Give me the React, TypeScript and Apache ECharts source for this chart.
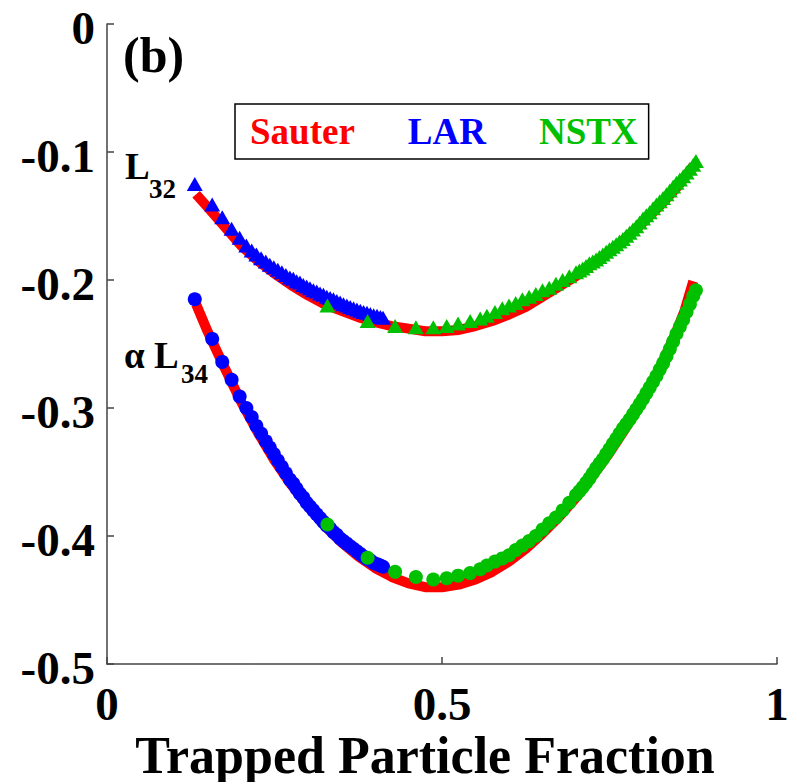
import React, { useEffect, useRef } from "react";
import * as echarts from "echarts";

// ---- data ----
const sauterX = [0.133, 0.15, 0.175, 0.2, 0.225, 0.25, 0.275, 0.3, 0.325, 0.35, 0.375, 0.4, 0.425, 0.45, 0.475, 0.5, 0.525, 0.55, 0.575, 0.6, 0.625, 0.65, 0.675, 0.7, 0.725, 0.75, 0.775, 0.8, 0.825, 0.85, 0.862, 0.875];
const sauterL32 = [-0.133, -0.143, -0.158, -0.173, -0.185, -0.195, -0.204, -0.212, -0.219, -0.224, -0.229, -0.233, -0.236, -0.238, -0.24, -0.24, -0.239, -0.236, -0.232, -0.227, -0.221, -0.213, -0.205, -0.197, -0.188, -0.178, -0.167, -0.155, -0.142, -0.128, -0.12, -0.111];
const sauterL34 = [-0.219, -0.24, -0.268, -0.295, -0.319, -0.341, -0.36, -0.377, -0.392, -0.405, -0.416, -0.425, -0.432, -0.437, -0.44, -0.44, -0.438, -0.434, -0.428, -0.42, -0.41, -0.398, -0.385, -0.37, -0.353, -0.335, -0.315, -0.294, -0.269, -0.24, -0.224, -0.201];

const larX = [0.131, 0.157, 0.172, 0.186, 0.198, 0.208, 0.216, 0.223, 0.23, 0.237, 0.243, 0.249, 0.255, 0.261, 0.267, 0.273, 0.278, 0.283, 0.288, 0.293, 0.298, 0.303, 0.308, 0.313, 0.318, 0.323, 0.328, 0.333, 0.338, 0.343, 0.348, 0.353, 0.358, 0.363, 0.368, 0.373, 0.378, 0.383, 0.388, 0.393, 0.398, 0.403, 0.408, 0.412];
const larL32 = [-0.125, -0.141, -0.151, -0.16, -0.167, -0.173, -0.177, -0.18, -0.183, -0.1855, -0.188, -0.19, -0.192, -0.194, -0.196, -0.198, -0.199, -0.201, -0.202, -0.204, -0.205, -0.2065, -0.208, -0.209, -0.2105, -0.2115, -0.213, -0.214, -0.215, -0.2165, -0.2175, -0.219, -0.22, -0.221, -0.222, -0.223, -0.224, -0.225, -0.2255, -0.2265, -0.2275, -0.228, -0.229, -0.2295];
const larL34 = [-0.215, -0.246, -0.264, -0.278, -0.291, -0.3, -0.307, -0.314, -0.32, -0.326, -0.331, -0.336, -0.341, -0.346, -0.351, -0.356, -0.359, -0.363, -0.367, -0.37, -0.374, -0.377, -0.38, -0.383, -0.386, -0.389, -0.392, -0.394, -0.397, -0.399, -0.402, -0.404, -0.406, -0.408, -0.41, -0.412, -0.414, -0.416, -0.418, -0.419, -0.421, -0.422, -0.423, -0.424];

const nstxX = [0.329, 0.389, 0.43, 0.461, 0.487, 0.507, 0.524, 0.542, 0.557, 0.567, 0.579, 0.59, 0.6, 0.61, 0.62, 0.63, 0.64, 0.65, 0.66, 0.67, 0.68, 0.69, 0.7, 0.705, 0.71, 0.715, 0.72, 0.725, 0.73, 0.735, 0.74, 0.745, 0.75, 0.755, 0.76, 0.765, 0.77, 0.775, 0.78, 0.785, 0.79, 0.795, 0.8, 0.805, 0.81, 0.815, 0.82, 0.825, 0.83, 0.835, 0.84, 0.845, 0.85, 0.855, 0.86, 0.865, 0.87, 0.875, 0.879];
const nstxL32 = [-0.22, -0.232, -0.236, -0.237, -0.237, -0.236, -0.234, -0.232, -0.23, -0.228, -0.225, -0.222, -0.22, -0.218, -0.215, -0.213, -0.211, -0.208, -0.206, -0.203, -0.2, -0.197, -0.194, -0.1925, -0.191, -0.189, -0.187, -0.1855, -0.184, -0.182, -0.18, -0.178, -0.176, -0.174, -0.172, -0.17, -0.168, -0.1655, -0.163, -0.1605, -0.158, -0.155, -0.152, -0.1495, -0.147, -0.144, -0.141, -0.1385, -0.136, -0.133, -0.13, -0.127, -0.124, -0.1215, -0.119, -0.116, -0.113, -0.11, -0.107];
const nstxL34 = [-0.391, -0.417, -0.428, -0.432, -0.434, -0.433, -0.431, -0.429, -0.426, -0.423, -0.42, -0.4175, -0.415, -0.411, -0.4075, -0.404, -0.4, -0.395, -0.39, -0.3855, -0.38, -0.374, -0.368, -0.365, -0.362, -0.3585, -0.355, -0.351, -0.347, -0.3435, -0.34, -0.336, -0.332, -0.328, -0.324, -0.32, -0.316, -0.3125, -0.309, -0.305, -0.301, -0.297, -0.293, -0.2885, -0.284, -0.2795, -0.275, -0.27, -0.265, -0.2595, -0.254, -0.248, -0.242, -0.2365, -0.231, -0.225, -0.219, -0.2125, -0.208];

const xTicks = [0, 0.5, 1];
const yTicks = [-0.5, -0.4, -0.3, -0.2, -0.1, 0];
const legendNames = ["Sauter", "LAR", "NSTX"];
const xTitle = "Trapped Particle Fraction";

const RED = "#ff0000";
const BLUE = "#0000ff";
const GREEN = "#00c000";
const FONT = "'Liberation Serif', 'Times New Roman', serif";

const pairs = (xs: number[], ys: number[]) => xs.map((x, i) => [x, ys[i]]);

export default function App() {
  const ref = useRef<HTMLDivElement>(null);
  useEffect(() => {
    if (!ref.current) return;
    const chart = echarts.init(ref.current, undefined, { renderer: "svg" });
    const labelStyle = { color: "#000", fontFamily: FONT, fontWeight: "bold" as const, fontSize: 47 };
    chart.setOption({
      animation: false,
      backgroundColor: "#ffffff",
      grid: { left: 107, top: 24, width: 670, height: 640, containLabel: false, outerBoundsMode: "none" },
      legend: {
        left: 235,
        top: 104,
        orient: "horizontal",
        icon: "none",
        itemWidth: 0,
        itemHeight: 0,
        itemGap: 48,
        padding: [9, 11, 9, 10],
        borderColor: "#000",
        borderWidth: 1.5,
        backgroundColor: "#fff",
        selectedMode: false,
        textStyle: { fontFamily: FONT, fontWeight: "bold", fontSize: 37 },
        data: [
          { name: legendNames[0], textStyle: { color: RED } },
          { name: legendNames[1], textStyle: { color: BLUE } },
          { name: legendNames[2], textStyle: { color: GREEN } },
        ],
      },
      xAxis: {
        type: "value",
        min: xTicks[0],
        max: xTicks[xTicks.length - 1],
        interval: 0.5,
        name: xTitle,
        nameLocation: "middle",
        nameGap: 65,
        nameMoveOverlap: false,
        nameTextStyle: { color: "#000", fontFamily: FONT, fontWeight: "bold", fontSize: 52, padding: [0, 34, 0, 0] },
        axisLine: { show: true, onZero: false, lineStyle: { color: "#444", width: 1.5 } },
        axisTick: { show: true, inside: true, length: 7, lineStyle: { color: "#444", width: 1.5 } },
        axisLabel: { ...labelStyle, margin: 16, formatter: (v: number) => String(v) },
        splitLine: { show: false },
      },
      yAxis: {
        type: "value",
        min: yTicks[0],
        max: yTicks[yTicks.length - 1],
        interval: 0.1,
        axisLine: { show: true, onZero: false, lineStyle: { color: "#444", width: 1.5 } },
        axisTick: { show: true, inside: true, length: 7, lineStyle: { color: "#444", width: 1.5 } },
        axisLabel: { ...labelStyle, margin: 12, verticalAlign: "top", lineHeight: 8, formatter: (v: number) => String(Math.round(v * 10) / 10) },
        splitLine: { show: false },
      },
      graphic: [
        { type: "text", left: 123, top: 30, style: { text: "(b)", font: `bold 50px ${FONT}`, fill: "#000" } },
        { type: "text", x: 125, y: 166, style: { text: "L", font: `bold 37px ${FONT}`, fill: "#000", verticalAlign: "middle" } },
        { type: "text", x: 149, y: 189, style: { text: "32", font: `bold 27px ${FONT}`, fill: "#000", verticalAlign: "middle" } },
        { type: "text", x: 124, y: 355, style: { text: "α L", font: `bold 37px ${FONT}`, fill: "#000", verticalAlign: "middle" } },
        { type: "text", x: 181, y: 374, style: { text: "34", font: `bold 27px ${FONT}`, fill: "#000", verticalAlign: "middle" } },
      ],
      series: [
        { name: "Sauter", type: "line", z: 1, data: pairs(sauterX, sauterL32), showSymbol: false, symbol: "none", lineStyle: { color: RED, width: 10 }, itemStyle: { color: RED } },
        { name: "Sauter", type: "line", z: 1, data: pairs(sauterX, sauterL34), showSymbol: false, symbol: "none", lineStyle: { color: RED, width: 10 }, itemStyle: { color: RED } },
        { name: "LAR", type: "scatter", z: 2, data: pairs(larX, larL32), symbol: "triangle", symbolSize: [16, 14], itemStyle: { color: BLUE, opacity: 1 } },
        { name: "LAR", type: "scatter", z: 2, data: pairs(larX, larL34), symbol: "circle", symbolSize: 14, itemStyle: { color: BLUE, opacity: 1 } },
        { name: "NSTX", type: "scatter", z: 3, data: pairs(nstxX, nstxL32), symbol: "triangle", symbolSize: [16, 14], itemStyle: { color: GREEN, opacity: 1 } },
        { name: "NSTX", type: "scatter", z: 3, data: pairs(nstxX, nstxL34), symbol: "circle", symbolSize: 14, itemStyle: { color: GREEN, opacity: 1 } },
      ],
    });
    return () => chart.dispose();
  }, []);
  return <div ref={ref} style={{ position: "fixed", left: 0, top: 0, width: 795, height: 782, background: "#fff" }} />;
}
